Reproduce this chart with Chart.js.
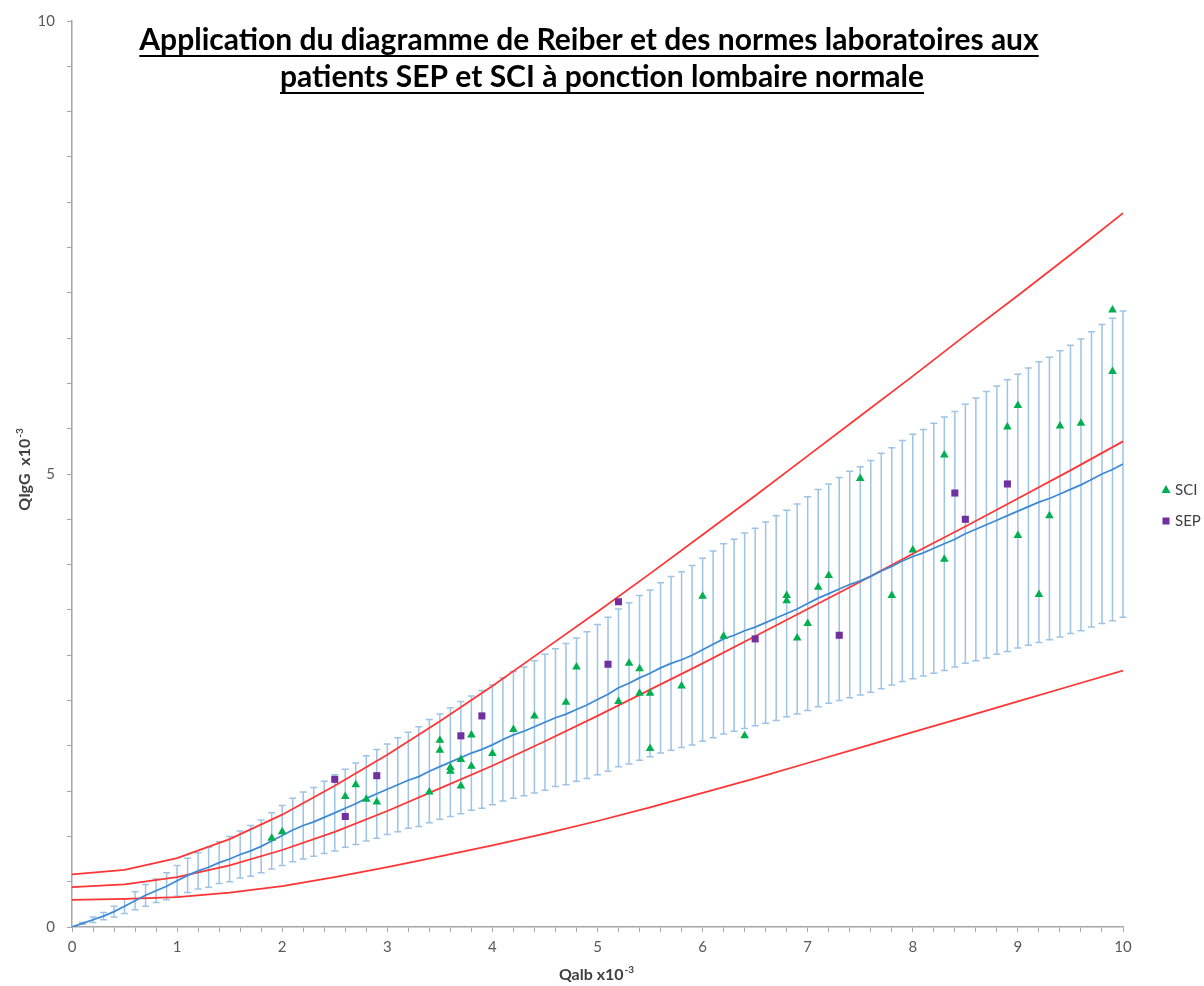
<!DOCTYPE html>
<html>
<head>
<meta charset="utf-8">
<script src="https://cdn.jsdelivr.net/npm/chart.js@4/dist/chart.umd.min.js"></script>
<style>
  html, body { margin: 0; padding: 0; background: #fff; }
  #wrap { width: 1204px; height: 986px; }
</style>
</head>
<body>
<div id="wrap"><canvas id="chart" width="1204" height="986"></canvas></div>
<script>
// lab norm (blue) : Qalb grid, mean QIgG and error half width
const normQalb = [0,0.1,0.2,0.3,0.4,0.5,0.6,0.7,0.8,0.9,1,1.1,1.2,1.3,1.4,1.5,1.6,1.7,1.8,1.9,2,2.1,2.2,2.3,2.4,2.5,2.6,2.7,2.8,2.9,3,3.1,3.2,3.3,3.4,3.5,3.6,3.7,3.8,3.9,4,4.1,4.2,4.3,4.4,4.5,4.6,4.7,4.8,4.9,5,5.1,5.2,5.3,5.4,5.5,5.6,5.7,5.8,5.9,6,6.1,6.2,6.3,6.4,6.5,6.6,6.7,6.8,6.9,7,7.1,7.2,7.3,7.4,7.5,7.6,7.7,7.8,7.9,8,8.1,8.2,8.3,8.4,8.5,8.6,8.7,8.8,8.9,9,9.1,9.2,9.3,9.4,9.5,9.6,9.7,9.8,9.9,10];
const normMean = [0,0.04,0.08,0.12,0.17,0.23,0.29,0.35,0.40,0.45,0.51,0.57,0.62,0.66,0.71,0.75,0.80,0.84,0.89,0.95,1.01,1.07,1.12,1.16,1.21,1.26,1.31,1.36,1.42,1.47,1.52,1.57,1.62,1.66,1.72,1.77,1.82,1.87,1.92,1.96,2.01,2.07,2.12,2.16,2.21,2.26,2.31,2.35,2.40,2.45,2.51,2.57,2.64,2.69,2.75,2.80,2.86,2.91,2.95,3.00,3.06,3.12,3.18,3.22,3.27,3.31,3.36,3.41,3.46,3.51,3.57,3.63,3.68,3.73,3.78,3.82,3.87,3.93,3.98,4.04,4.09,4.13,4.18,4.23,4.28,4.34,4.39,4.44,4.49,4.54,4.59,4.64,4.69,4.73,4.78,4.83,4.88,4.94,5.00,5.05,5.11];
const normErr = [0,0.01,0.03,0.04,0.06,0.08,0.10,0.12,0.13,0.15,0.17,0.19,0.20,0.22,0.23,0.25,0.26,0.28,0.29,0.31,0.33,0.35,0.37,0.38,0.40,0.42,0.43,0.45,0.47,0.49,0.50,0.52,0.53,0.55,0.57,0.58,0.60,0.62,0.63,0.65,0.66,0.68,0.70,0.71,0.73,0.75,0.76,0.78,0.79,0.81,0.83,0.85,0.87,0.89,0.91,0.92,0.94,0.96,0.97,0.99,1.01,1.03,1.05,1.06,1.08,1.09,1.11,1.13,1.14,1.16,1.18,1.20,1.21,1.23,1.25,1.26,1.28,1.30,1.31,1.33,1.35,1.36,1.38,1.40,1.41,1.43,1.45,1.47,1.48,1.50,1.51,1.53,1.55,1.56,1.58,1.59,1.61,1.63,1.65,1.67,1.69];

// Reiber hyperbolas (red)
const reiberQalb = [0,0.5,1,1.5,2,2.5,3,3.5,4,4.5,5,5.5,6,6.5,7,7.5,8,8.5,9,9.5,10];
const reiberUpper = [0.58,0.63,0.76,0.97,1.24,1.56,1.90,2.27,2.66,3.07,3.48,3.90,4.33,4.76,5.20,5.64,6.08,6.53,6.97,7.42,7.88];
const reiberMid = [0.44,0.47,0.55,0.68,0.85,1.05,1.28,1.53,1.78,2.05,2.33,2.62,2.91,3.21,3.51,3.81,4.12,4.42,4.73,5.04,5.36];
const reiberLower = [0.30,0.31,0.33,0.38,0.45,0.55,0.66,0.78,0.90,1.03,1.17,1.32,1.48,1.64,1.81,1.98,2.15,2.32,2.49,2.66,2.83];

// patients
const sciQalb = [1.9,2.0,2.6,2.7,2.8,2.9,3.4,3.5,3.5,3.6,3.6,3.7,3.7,3.8,3.8,4.0,4.2,4.4,4.7,4.8,5.2,5.3,5.4,5.4,5.5,5.5,5.8,6.0,6.2,6.4,6.8,6.8,6.9,7.0,7.1,7.2,7.5,7.8,8.0,8.3,8.3,8.9,9.0,9.0,9.2,9.3,9.4,9.6,9.9,9.9];
const sciIgG = [0.98,1.05,1.44,1.57,1.41,1.38,1.49,2.06,1.95,1.76,1.72,1.85,1.555,2.12,1.775,1.915,2.18,2.33,2.48,2.87,2.49,2.91,2.85,2.58,2.58,1.97,2.66,3.65,3.21,2.11,3.66,3.60,3.19,3.35,3.75,3.88,4.95,3.66,4.16,5.21,4.06,5.52,5.755,4.32,3.67,4.54,5.53,5.56,6.81,6.13];
const sepQalb = [2.5,2.6,2.9,3.7,3.9,5.1,5.2,6.5,7.3,8.4,8.5,8.9];
const sepIgG = [1.63,1.22,1.67,2.11,2.33,2.90,3.59,3.18,3.22,4.79,4.50,4.89];

const xTicksMajor = [0,1,2,3,4,5,6,7,8,9,10];
const yTicksMajor = [0,5,10];

const titleLines = [
  "Application du diagramme de Reiber et des normes laboratoires aux",
  "patients SEP et SCI à ponction lombaire normale"
];

const FONT = "Lato, 'Open Sans', sans-serif";
const AXIS_COLOR = "#a6a6a6";
const LABEL_COLOR = "#595959";

function pts(xs, ys) {
  return xs.map((x, i) => ({ x: x, y: ys[i] }));
}

const errorBarsPlugin = {
  id: "errorBars",
  beforeDatasetsDraw(chart) {
    const ctx = chart.ctx;
    const xs = chart.scales.x;
    const ys = chart.scales.y;
    ctx.save();
    ctx.strokeStyle = "#9dc3e6";
    ctx.lineWidth = 1.5;
    for (let i = 0; i < normQalb.length; i++) {
      if (normErr[i] <= 0) continue;
      const px = xs.getPixelForValue(normQalb[i]);
      const top = ys.getPixelForValue(normMean[i] + normErr[i]);
      const bot = ys.getPixelForValue(normMean[i] - normErr[i]);
      ctx.beginPath();
      ctx.moveTo(px, top);
      ctx.lineTo(px, bot);
      ctx.moveTo(px - 3.5, top);
      ctx.lineTo(px + 3.5, top);
      ctx.moveTo(px - 3.5, bot);
      ctx.lineTo(px + 3.5, bot);
      ctx.stroke();
    }
    ctx.restore();
  }
};

function drawSup(ctx, base, sup, cx, cy, size) {
  ctx.font = "bold " + size + "px " + FONT;
  const wb = ctx.measureText(base).width;
  ctx.font = "bold " + Math.round(size * 0.65) + "px " + FONT;
  const ws = ctx.measureText(sup).width;
  const x0 = cx - (wb + ws) / 2;
  ctx.textAlign = "left";
  ctx.textBaseline = "middle";
  ctx.font = "bold " + size + "px " + FONT;
  ctx.fillText(base, x0, cy);
  ctx.font = "bold " + Math.round(size * 0.65) + "px " + FONT;
  ctx.fillText(sup, x0 + wb + 1, cy - size * 0.35);
}

const decorPlugin = {
  id: "decor",
  afterDraw(chart) {
    const ctx = chart.ctx;
    ctx.save();
    // title, bold and underlined
    ctx.fillStyle = "#000";
    ctx.strokeStyle = "#000";
    ctx.font = "bold 30px " + FONT;
    ctx.textAlign = "center";
    ctx.textBaseline = "alphabetic";
    const centers = [589, 602];
    const baselines = [50, 87];
    titleLines.forEach((t, i) => {
      ctx.fillText(t, centers[i], baselines[i]);
      const w = ctx.measureText(t).width;
      ctx.lineWidth = 2;
      ctx.beginPath();
      ctx.moveTo(centers[i] - w / 2, baselines[i] + 6);
      ctx.lineTo(centers[i] + w / 2, baselines[i] + 6);
      ctx.stroke();
    });

    // axis titles
    ctx.fillStyle = "#404040";
    drawSup(ctx, "Qalb x10", "-3", 596, 975, 16);
    ctx.save();
    ctx.translate(25, 470);
    ctx.rotate(-Math.PI / 2);
    drawSup(ctx, "QIgG  x10", "-3", 0, 0, 16);
    ctx.restore();

    // legend
    ctx.fillStyle = "#00b050";
    ctx.beginPath();
    ctx.moveTo(1166, 485);
    ctx.lineTo(1170.5, 493);
    ctx.lineTo(1161.5, 493);
    ctx.closePath();
    ctx.fill();
    ctx.fillStyle = "#7030a0";
    ctx.fillRect(1162.5, 517.5, 7, 7);
    ctx.fillStyle = "#404040";
    ctx.font = "15px " + FONT;
    ctx.textAlign = "left";
    ctx.textBaseline = "middle";
    ctx.fillText("SCI", 1175, 490);
    ctx.fillText("SEP", 1175, 521);
    ctx.restore();
  }
};

new Chart(document.getElementById("chart"), {
  type: "scatter",
  data: {
    datasets: [
      {
        label: "SCI",
        data: pts(sciQalb, sciIgG),
        pointStyle: "triangle",
        pointRadius: 5,
        backgroundColor: "#00b050",
        borderColor: "#00b050",
        borderWidth: 0,
        order: 0
      },
      {
        label: "SEP",
        data: pts(sepQalb, sepIgG),
        pointStyle: "rect",
        pointRadius: 5,
        backgroundColor: "#7030a0",
        borderColor: "#7030a0",
        borderWidth: 0,
        order: 0
      },
      {
        label: "norme",
        type: "line",
        data: pts(normQalb, normMean),
        borderColor: "#3d8ad4",
        borderWidth: 1.75,
        pointRadius: 0,
        fill: false,
        order: 1
      },
      {
        label: "Qlim sup",
        type: "line",
        data: pts(reiberQalb, reiberUpper),
        borderColor: "#ff3535",
        borderWidth: 1.75,
        pointRadius: 0,
        fill: false,
        order: 2
      },
      {
        label: "Qmean",
        type: "line",
        data: pts(reiberQalb, reiberMid),
        borderColor: "#ff3535",
        borderWidth: 1.75,
        pointRadius: 0,
        fill: false,
        order: 2
      },
      {
        label: "Qlim inf",
        type: "line",
        data: pts(reiberQalb, reiberLower),
        borderColor: "#ff3535",
        borderWidth: 1.75,
        pointRadius: 0,
        fill: false,
        order: 2
      }
    ]
  },
  options: {
    responsive: false,
    animation: false,
    layout: { padding: { left: 0, right: 81, top: 20, bottom: 0 } },
    plugins: {
      legend: { display: false },
      tooltip: { enabled: false }
    },
    scales: {
      x: {
        type: "linear",
        position: "bottom",
        min: 0,
        max: 10,
        grid: { drawOnChartArea: false, drawTicks: true, tickLength: 5, color: AXIS_COLOR },
        border: { color: AXIS_COLOR, width: 1.5 },
        ticks: {
          stepSize: 0.2,
          maxTicksLimit: 60,
          autoSkip: false,
          maxRotation: 0,
          padding: 6,
          color: LABEL_COLOR,
          font: { family: FONT, size: 15 },
          callback: (v) => {
            const r = Math.round(v);
            return Math.abs(v - r) < 1e-6 && xTicksMajor.includes(r) ? String(r) : "";
          }
        },
        afterFit: (s) => { s.height = 59; }
      },
      y: {
        type: "linear",
        position: "left",
        min: 0,
        max: 10,
        grid: { drawOnChartArea: false, drawTicks: true, tickLength: 5, color: AXIS_COLOR },
        border: { color: AXIS_COLOR, width: 1.5 },
        ticks: {
          stepSize: 0.5,
          maxTicksLimit: 30,
          autoSkip: false,
          padding: 12,
          color: LABEL_COLOR,
          font: { family: FONT, size: 15 },
          callback: (v) => {
            const r = Math.round(v);
            return Math.abs(v - r) < 1e-6 && yTicksMajor.includes(r) ? String(r) : "";
          }
        },
        afterFit: (s) => { s.width = 72; }
      }
    }
  },
  plugins: [errorBarsPlugin, decorPlugin]
});
</script>
</body>
</html>
